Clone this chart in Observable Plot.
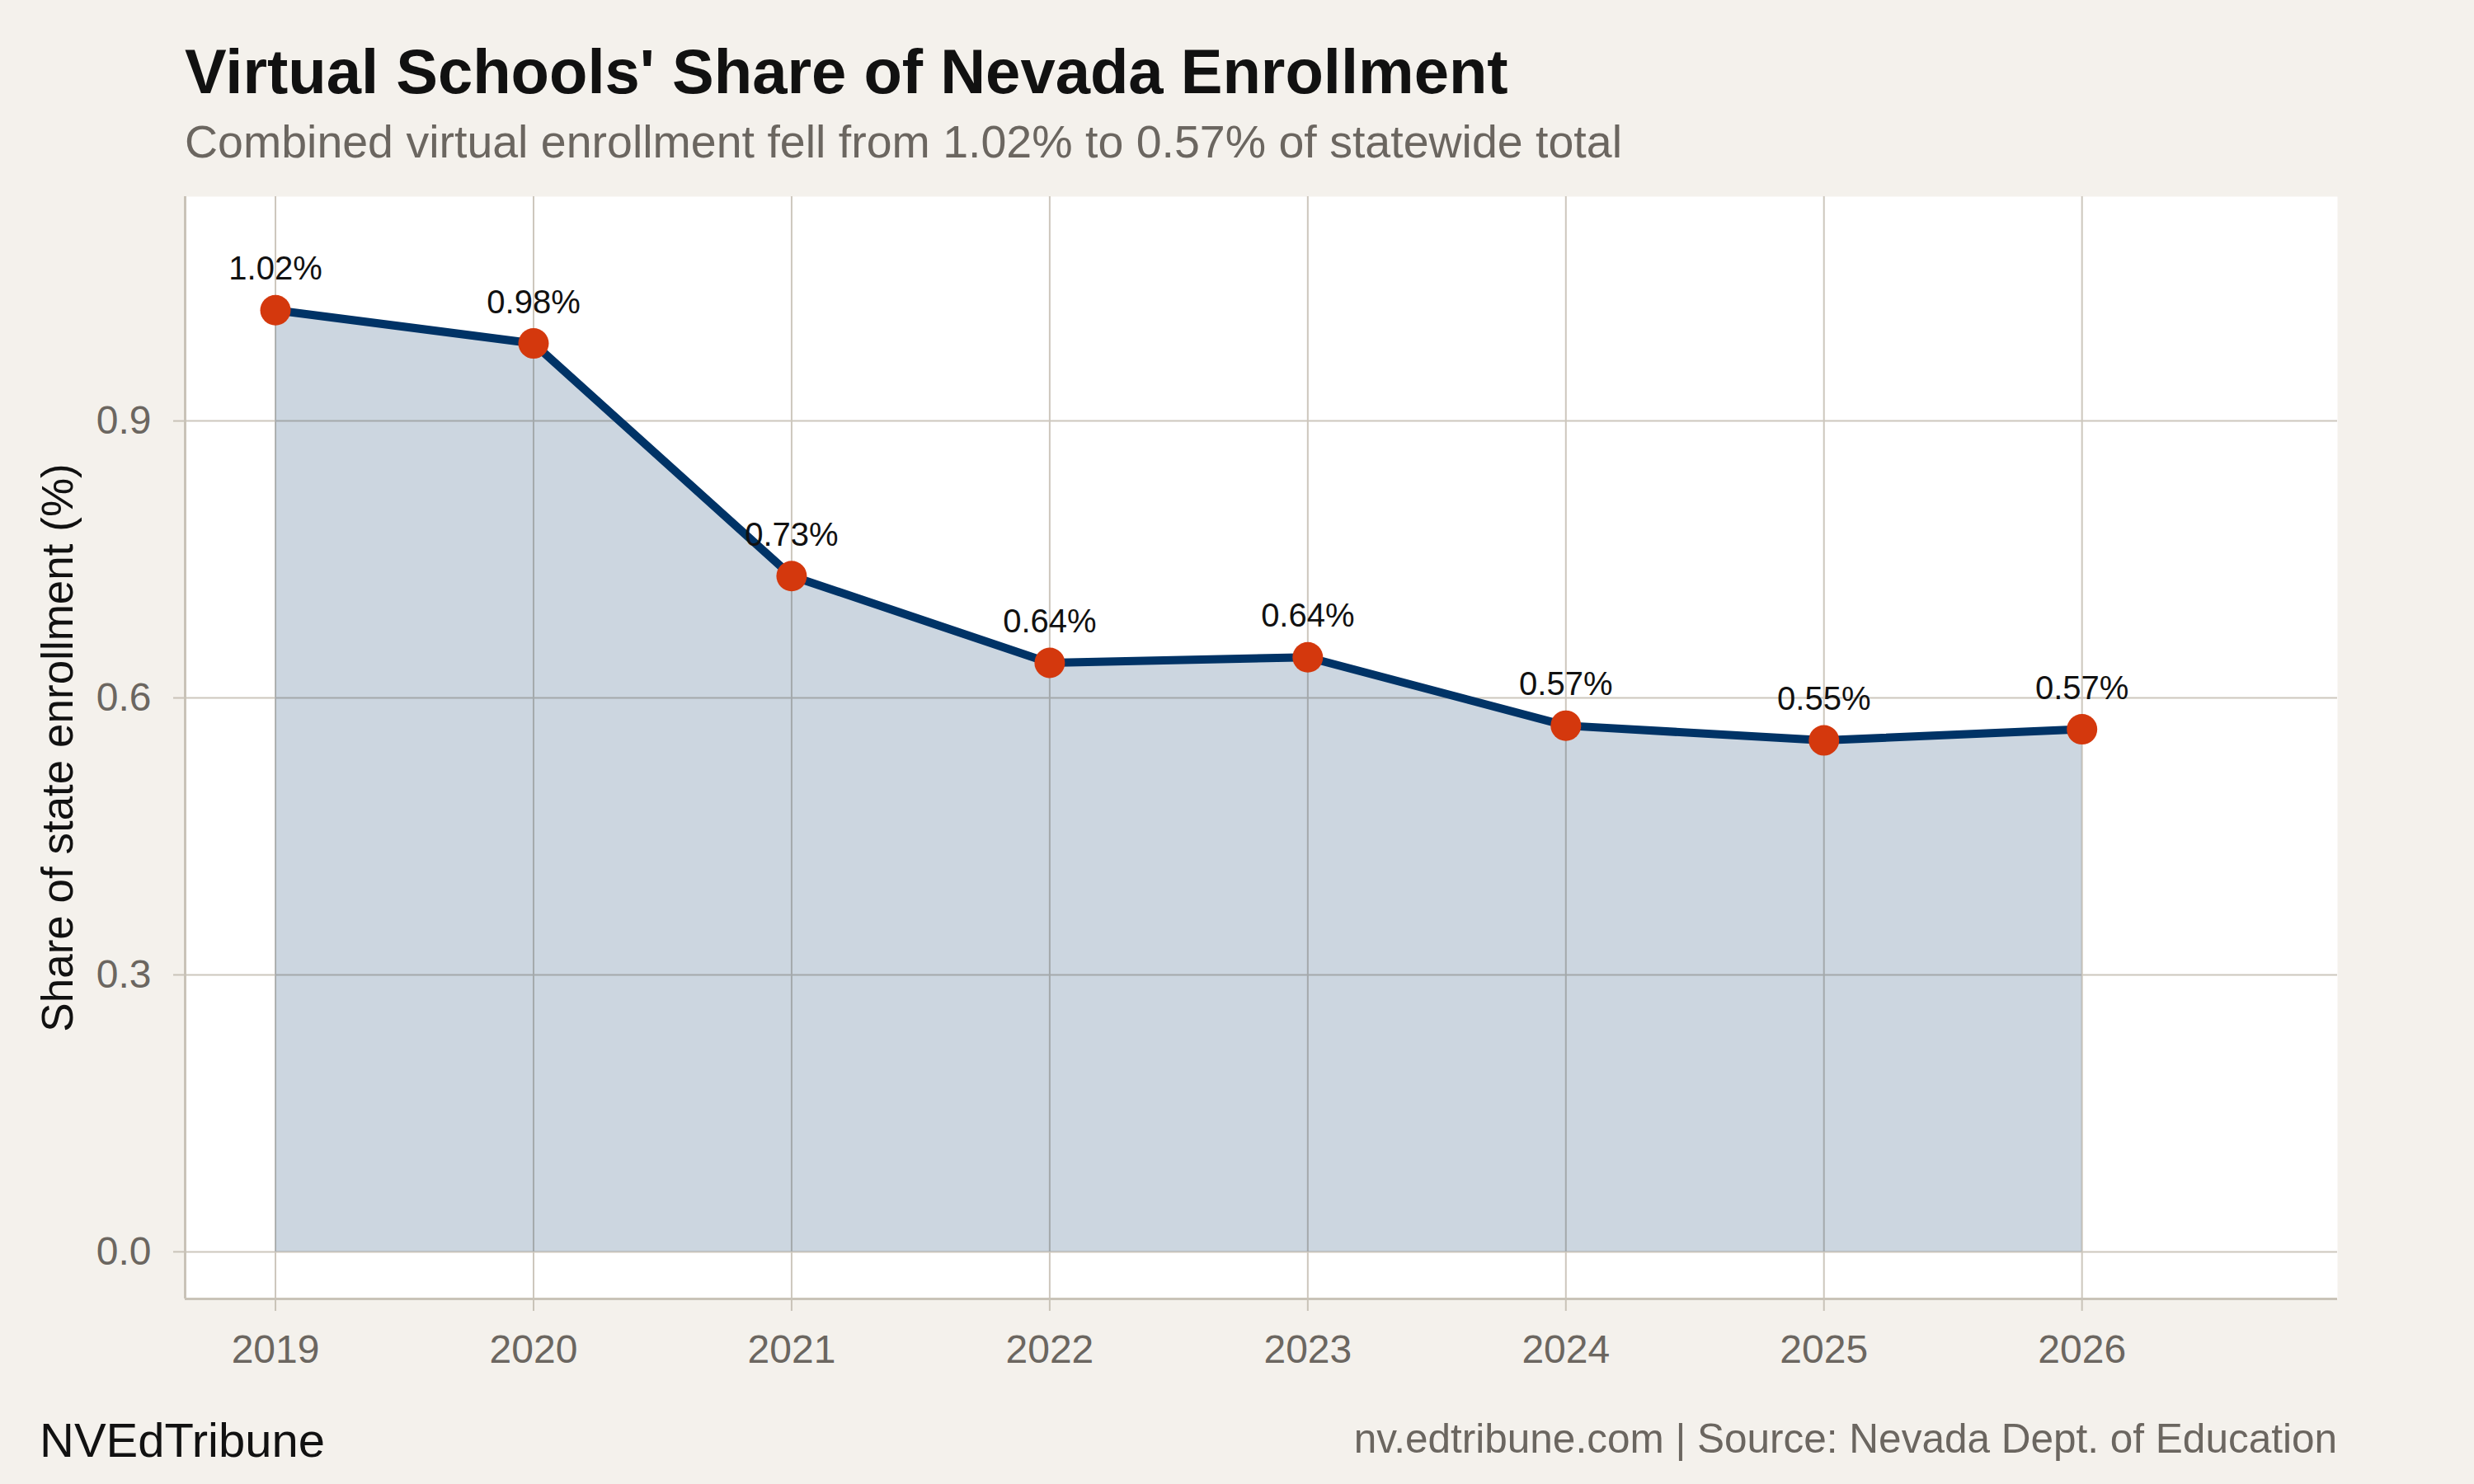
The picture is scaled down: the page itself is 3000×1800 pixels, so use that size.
<!DOCTYPE html>
<html>
<head>
<meta charset="utf-8">
<script src="https://cdn.jsdelivr.net/npm/d3@7"></script>
<script src="https://cdn.jsdelivr.net/npm/@observablehq/plot@0.6"></script>
<style>
  html, body { margin: 0; padding: 0; background: #f4f1ec; }
  #wrap { position: relative; width: 3000px; height: 1800px; background: #f4f1ec; font-family: "Liberation Sans", Arial, Helvetica, sans-serif; overflow: hidden; }
  #wrap > svg { position: absolute; left: 0; top: 0; }
  .t { position: absolute; white-space: nowrap; line-height: 1; }
  #title { left: 224px; top: 49px; font-size: 76px; font-weight: bold; color: #111111; }
  #subtitle { left: 224px; top: 145px; font-size: 55.5px; color: #6b6660; }
  #capL { left: 48px; top: 1718px; font-size: 58px; color: #111111; }
  #capR { right: 166px; top: 1720px; font-size: 49.5px; color: #6b6660; }
</style>
</head>
<body>
<div id="wrap">
  <div class="t" id="title">Virtual Schools' Share of Nevada Enrollment</div>
  <div class="t" id="subtitle">Combined virtual enrollment fell from 1.02% to 0.57% of statewide total</div>
  <div class="t" id="capL">NVEdTribune</div>
  <div class="t" id="capR">nv.edtribune.com | Source: Nevada Dept. of Education</div>
</div>
<script>
// ---- data ----
const years = [2019, 2020, 2021, 2022, 2023, 2024, 2025, 2026];
const shares = [1.020, 0.984, 0.732, 0.638, 0.644, 0.570, 0.554, 0.566];
const pointLabels = ["1.02%", "0.98%", "0.73%", "0.64%", "0.64%", "0.57%", "0.55%", "0.57%"];
const yTicks = [0, 0.3, 0.6, 0.9];
const xDomain = [2018.65, 2026.99];
const yDomain = [-0.051, 1.143];
const yTitle = "Share of state enrollment (%)";

const rows = years.map((year, i) => ({year, share: shares[i], label: pointLabels[i]}));

const gridColor = "#cdc7bd";
const axisColor = "#c9c3b8";
const tickText = "#6b6660";
const navy = "#003366";
const orange = "#d4380d";

const chart = Plot.plot({
  width: 3000,
  height: 1800,
  marginTop: 238,
  marginBottom: 225,
  marginLeft: 224,
  marginRight: 166,
  style: {background: "transparent", fontFamily: "'Liberation Sans', Arial, Helvetica, sans-serif", overflow: "visible"},
  x: {domain: xDomain},
  y: {domain: yDomain},
  marks: [
    Plot.frame({fill: "white", stroke: "none"}),
    Plot.gridY(yTicks, {stroke: gridColor, strokeOpacity: 1, strokeWidth: 2}),
    Plot.gridX(years, {stroke: gridColor, strokeOpacity: 1, strokeWidth: 2}),
    Plot.ruleX([xDomain[0]], {stroke: axisColor, strokeWidth: 3}),
    Plot.ruleY([yDomain[0]], {stroke: axisColor, strokeWidth: 3}),
    Plot.axisX(years, {
      tickFormat: d3.format("d"), tickSize: 15, tickPadding: 28,
      stroke: axisColor, strokeWidth: 2, fill: tickText, fontSize: 48, label: null
    }),
    Plot.axisY(yTicks, {
      tickFormat: d3.format(".1f"), tickSize: 14, tickPadding: 27,
      stroke: axisColor, strokeWidth: 2, fill: tickText, fontSize: 48, label: null
    }),
    Plot.text([yTitle], {
      frameAnchor: "left", rotate: -90, dx: -174, lineAnchor: "top", textAnchor: "middle",
      text: d => d, fontSize: 53, fill: "#111111"
    }),
    Plot.areaY(rows, {x: "year", y: "share", fill: navy, fillOpacity: 0.2}),
    Plot.lineY(rows, {x: "year", y: "share", stroke: navy, strokeWidth: 10}),
    Plot.dot(rows, {x: "year", y: "share", r: 18.5, fill: orange, stroke: "none"}),
    Plot.text(rows, {x: "year", y: "share", text: "label", dy: -37, lineAnchor: "bottom", fontSize: 40, fill: "#111111"})
  ]
});
document.getElementById("wrap").prepend(chart);
</script>
</body>
</html>
